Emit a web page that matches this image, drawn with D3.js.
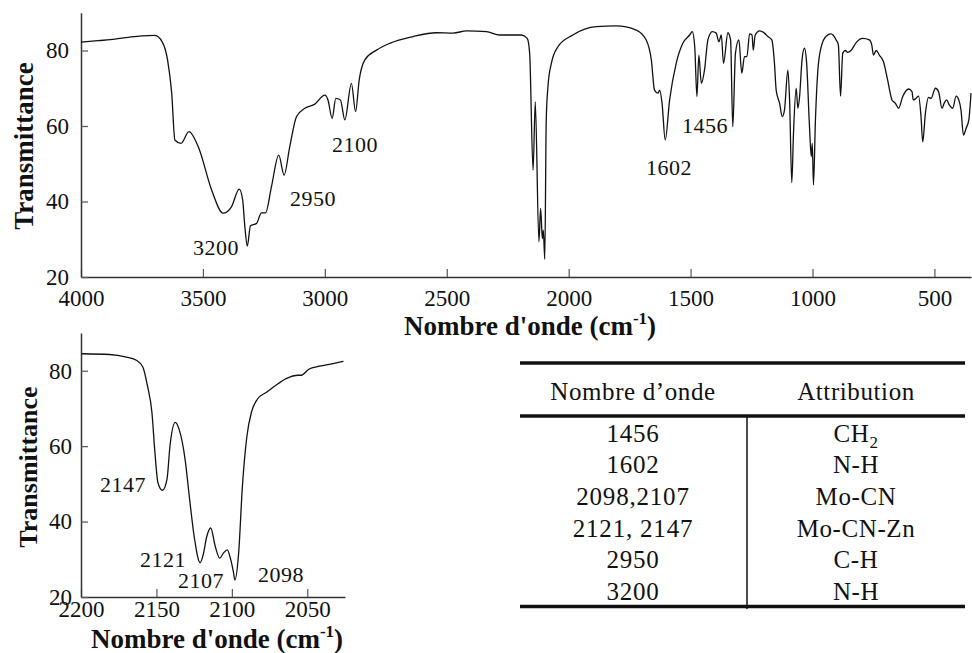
<!DOCTYPE html>
<html>
<head>
<meta charset="utf-8">
<script src="https://cdn.jsdelivr.net/npm/d3@7"></script>
<style>
  html, body { margin: 0; padding: 0; background: #fff; }
  svg { display: block; font-family: "Liberation Serif", "Times New Roman", serif; }
</style>
</head>
<body>
<svg id="chart" width="972" height="653"></svg>
<script>
// ---------- DATA ----------
const spectrumWavenumber = [4000,3930,3861,3806,3751,3697,3667,3645,3628,3615,3590,3557,3519,3464,3417,3383,3351,3337,3328,3318,3305,3280,3260,3243,3219,3189,3167,3144,3116,3082,3041,3000,2987,2970,2955,2936,2918,2891,2874,2859,2836,2788,2734,2638,2542,2474,2419,2337,2283,2194,2170,2160,2146,2137,2122,2115,2108,2104,2098,2092,2085,2071,2044,1983,1887,1805,1723,1682,1661,1648,1634,1627,1617,1604,1586,1559,1532,1504,1493,1483,1474,1466,1456,1443,1429,1411,1395,1384,1374,1365,1347,1336,1327,1316,1302,1290,1279,1269,1258,1248,1243,1235,1217,1197,1183,1167,1156,1149,1135,1124,1115,1101,1094,1085,1078,1067,1060,1053,1043,1033,1024,1013,1005,1001,996,988,978,964,944,924,903,894,885,876,865,856,842,821,794,767,757,750,739,726,709,692,674,660,647,630,606,592,587,576,565,555,548,537,524,514,496,483,469,459,450,439,425,411,400,391,381,370,359,350];
const spectrumTransmittance = [82.2,82.6,83.0,83.5,83.9,84.0,82.3,77.5,68.7,56.3,55.4,58.5,54.5,43.0,36.9,38.6,43.3,40.4,33.3,28.2,33.6,34.2,37.0,37.0,43.9,52.3,47.0,54.5,62.5,64.7,65.8,68.2,66.9,62.0,67.3,66.9,61.6,71.3,63.8,72.2,77.5,80.1,81.9,83.7,84.7,84.6,85.2,85.0,84.1,84.1,83.2,79.3,48.3,66.4,29.4,38.2,30.2,32.4,24.7,61.6,70.4,76.6,81.0,84.1,86.3,86.5,85.4,82.8,77.5,69.5,68.7,69.5,66.0,56.3,66.9,76.6,81.9,84.1,85.0,81.0,67.8,78.8,71.3,74.8,82.8,85.0,84.6,82.3,84.1,76.6,84.7,82.8,59.8,79.3,82.8,74.0,78.4,78.4,84.4,84.1,80.1,84.1,85.2,84.6,83.7,82.8,76.6,69.5,66.0,62.5,64.2,74.8,66.9,45.0,58.1,70.0,64.7,67.8,77.5,80.6,76.6,60.7,51.9,55.4,44.4,61.6,74.8,81.0,83.8,84.4,82.8,81.5,67.9,79.3,80.0,79.5,80.0,82.1,83.2,82.8,81.5,78.8,80.0,78.8,77.0,72.2,66.9,66.0,64.7,67.8,69.8,69.1,66.9,67.3,67.9,62.5,55.8,63.4,67.6,67.3,70.0,69.1,64.7,66.2,66.9,65.6,64.7,67.9,66.9,64.2,57.6,59.4,61.6,68.7];

const zoomWavenumber = [2199.5,2181,2170,2163,2159,2156,2153,2151,2149,2146,2143,2141,2137.5,2135,2131,2128,2125,2121,2119,2116.6,2114,2111,2108,2105.5,2103,2101,2099,2098,2095.5,2093,2090,2087,2083,2077,2071,2064,2056,2054,2049,2042,2033,2026];
const zoomTransmittance = [84.5,84.3,83.6,82.7,81.0,76.1,69.0,58.3,50.3,48.3,51.2,60.1,66.3,64.5,56.5,45.9,36.1,29.1,31.2,36.1,38.3,33.4,30.3,31.7,32.5,30.3,26.7,24.5,31.7,49.4,62.7,69.0,72.5,74.3,76.1,77.9,78.8,78.8,80.4,81.2,81.9,82.5];

const topXTicks = [4000,3500,3000,2500,2000,1500,1000,500];
const zoomXTicks = [2200,2150,2100,2050];
const yTicks = [20,40,60,80];

const topPeakLabels = ["3200","2950","2100","1602","1456"];
const zoomPeakLabels = ["2147","2121","2107","2098"];

const tableHeaders = ["Nombre d\u2019onde","Attribution"];
const tableWavenumbers = ["1456","1602","2098,2107","2121, 2147","2950","3200"];
const tableAttributions = [["CH","2"],["N-H",""],["Mo-CN",""],["Mo-CN-Zn",""],["C-H",""],["N-H",""]];

// ---------- DRAW ----------
const svg = d3.select("#chart");
svg.append("rect").attr("width",972).attr("height",653).attr("fill","#fff");

function styleAxis(g, fontSize) {
  g.select(".domain").attr("stroke","#333").attr("stroke-width",1.5);
  g.selectAll(".tick line").attr("stroke","#555").attr("stroke-width",1.2);
  g.selectAll(".tick text").attr("fill","#111").attr("font-size",fontSize)
    .attr("font-family","Liberation Serif, Times New Roman, serif");
}

function drawPanel(opts) {
  const x = d3.scaleLinear().domain(opts.xDomain).range(opts.xRange);
  const y = d3.scaleLinear().domain([20,90]).range(opts.yRange);
  const g = svg.append("g");

  const xa = g.append("g").attr("transform",`translate(0,${opts.yRange[0]})`)
    .call(d3.axisBottom(x).tickValues(opts.xTicks).tickSizeInner(-8).tickSizeOuter(0)
      .tickPadding(opts.xPad).tickFormat(d3.format("d")));
  styleAxis(xa, 23);
  const ya = g.append("g").attr("transform",`translate(${opts.xRange[0]},0)`)
    .call(d3.axisLeft(y).tickValues(yTicks).tickSizeInner(-7).tickSizeOuter(0)
      .tickPadding(opts.yPad).tickFormat(d3.format("d")));
  styleAxis(ya, 23);

  const line = d3.line().x((d,i)=>x(opts.wn[i])).y((d,i)=>y(opts.tr[i])).curve(d3.curveMonotoneX);
  g.append("path").datum(opts.tr).attr("d",line)
    .attr("fill","none").attr("stroke","#111").attr("stroke-width",1.3).attr("stroke-linejoin","round");

  // axis titles
  const xt = g.append("text").attr("x",opts.xTitle[0]).attr("y",opts.xTitle[1])
    .attr("text-anchor","middle").attr("font-weight","bold").attr("font-size",27).attr("fill","#111");
  xt.append("tspan").text("Nombre d'onde (cm");
  xt.append("tspan").attr("dy",-11).attr("font-size",17).text("-1");
  xt.append("tspan").attr("dy",11).text(")");

  g.append("text").attr("transform",`translate(${opts.yTitle[0]},${opts.yTitle[1]}) rotate(-90)`)
    .attr("text-anchor","middle").attr("font-weight","bold").attr("font-size",opts.yTitleSize).attr("fill","#111")
    .text("Transmittance");

  // peak labels
  opts.labels.forEach((t,i) => {
    g.append("text").attr("x",opts.labelPos[i][0]).attr("y",opts.labelPos[i][1])
      .attr("text-anchor","middle").attr("font-size",22).attr("letter-spacing",0.5).attr("fill","#111").text(t);
  });
}

drawPanel({
  xDomain:[4000,350], xRange:[81,971], yRange:[277,12.75],
  xTicks: topXTicks, xPad:13, yPad:12,
  wn: spectrumWavenumber, tr: spectrumTransmittance,
  xTitle:[530,335], yTitle:[33,146], yTitleSize:27,
  labels: topPeakLabels,
  labelPos: [[216,255],[313,206],[355,152],[669,175],[705,133]]
});

drawPanel({
  xDomain:[2200,2025], xRange:[81,345], yRange:[597,333],
  xTicks: zoomXTicks, xPad:4, yPad:9,
  wn: zoomWavenumber, tr: zoomTransmittance,
  xTitle:[217,648], yTitle:[37,467], yTitleSize:26,
  labels: zoomPeakLabels,
  labelPos: [[123,492],[163,567],[201,588],[281,582]]
});

// ---------- TABLE ----------
const tg = svg.append("g").attr("font-size",25).attr("fill","#111");
const colX = d3.scalePoint().domain([0,1]).range([633,856]);
const rowY = d3.scaleLinear().domain([0,5]).range([441.7,600]);

tg.append("line").attr("x1",520).attr("x2",965).attr("y1",363).attr("y2",363).attr("stroke","#111").attr("stroke-width",3.3);
tg.append("line").attr("x1",520).attr("x2",965).attr("y1",416).attr("y2",416).attr("stroke","#111").attr("stroke-width",3.3);
tg.append("line").attr("x1",520).attr("x2",965).attr("y1",606.5).attr("y2",606.5).attr("stroke","#111").attr("stroke-width",3.3);
tg.append("line").attr("x1",747).attr("x2",747).attr("y1",416).attr("y2",609).attr("stroke","#111").attr("stroke-width",1.5);

tableHeaders.forEach((h,i) => {
  tg.append("text").attr("x",colX(i)).attr("y",400).attr("text-anchor","middle")
    .attr("letter-spacing",0.6).text(h);
});
tableWavenumbers.forEach((w,i) => {
  tg.append("text").attr("x",colX(0)).attr("y",rowY(i)).attr("text-anchor","middle")
    .attr("letter-spacing",0.8).text(w);
});
tableAttributions.forEach((a,i) => {
  const t = tg.append("text").attr("x",colX(1)).attr("y",rowY(i)).attr("text-anchor","middle")
    .attr("letter-spacing",0.6);
  t.append("tspan").text(a[0]);
  if (a[1]) t.append("tspan").attr("dy",6).attr("font-size",17).text(a[1]);
});
</script>
</body>
</html>
